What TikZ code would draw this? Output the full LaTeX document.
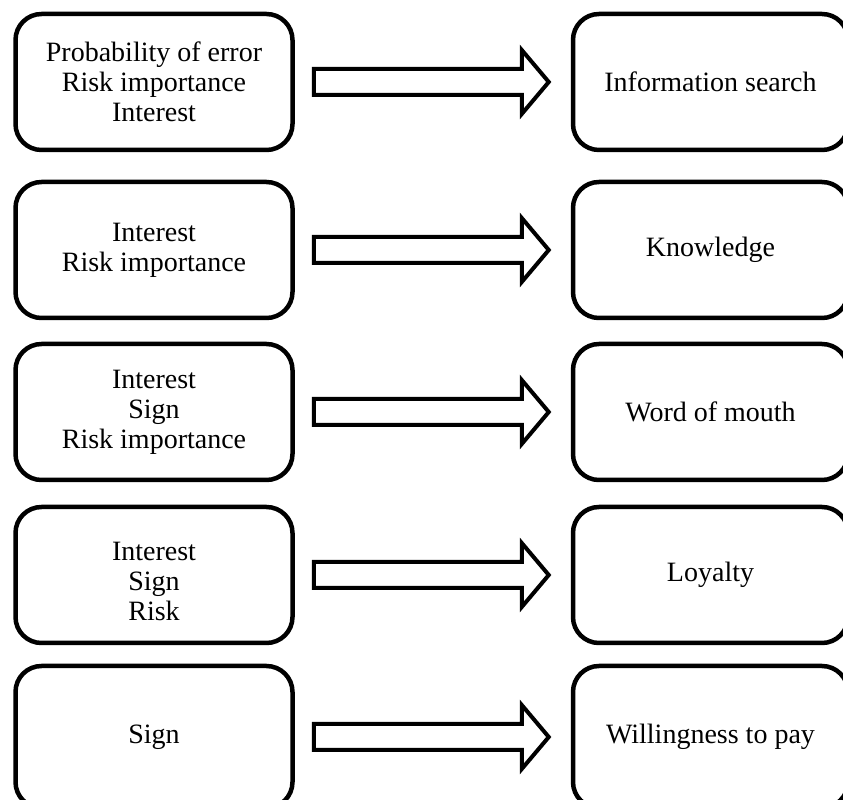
\documentclass[tikz,border=0pt]{standalone}
\usepackage{fontspec}
\setmainfont{Liberation Serif}
\usetikzlibrary{positioning, calc}

\tikzset{
  factor/.style={draw, line width=4.5pt, rounded corners=26pt, minimum width=277pt, minimum height=136pt, align=center, inner sep=0pt, font=\fontsize{28}{30}\selectfont},
  outcome/.style={factor, minimum width=275pt},
  blockarrow/.style={draw, line width=4pt, fill=white, line join=miter}
}

% block arrow from the east side of #1 to the west side of #2
\newcommand{\blockarrow}[2]{%
  \draw[blockarrow] let \p1=(#1.east), \p2=(#2.west) in
    (\x1+19pt,\y1+13pt) -- (\x2-49pt,\y1+13pt) -- (\x2-49pt,\y1+32pt) -- (\x2-22pt,\y1)
    -- (\x2-49pt,\y1-32pt) -- (\x2-49pt,\y1-13pt) -- (\x1+19pt,\y1-13pt) -- cycle;}

\begin{document}
\begin{tikzpicture}[x=1pt, y=1pt]
  \useasboundingbox (0,0) rectangle (843,800);
  \clip (0,0) rectangle (843,800);

  % Antecedents
  \node[factor] (f1) at (154,718) {Probability of error\\Risk importance\\Interest};
  \node[factor] (f2) at (154,550) {Interest\\Risk importance};
  \node[factor] (f3) at (154,388) {Interest\\Sign\\Risk importance};
  \node[factor, text height=91pt] (f4) at (154,225) {Interest\\Sign\\Risk};
  \node[factor, minimum height=142pt] (f5) at (154,63) {Sign};

  % Outcomes
  \node[outcome, right=276pt of f1] (o1) {Information search};
  \node[outcome, right=276pt of f2] (o2) {Knowledge};
  \node[outcome, right=276pt of f3] (o3) {Word of mouth};
  \node[outcome, right=276pt of f4] (o4) {Loyalty};
  \node[outcome, right=276pt of f5, minimum height=142pt] (o5) {Willingness to pay};

  % Arrows
  \blockarrow{f1}{o1}
  \blockarrow{f2}{o2}
  \blockarrow{f3}{o3}
  \blockarrow{f4}{o4}
  \blockarrow{f5}{o5}
\end{tikzpicture}
\end{document}
